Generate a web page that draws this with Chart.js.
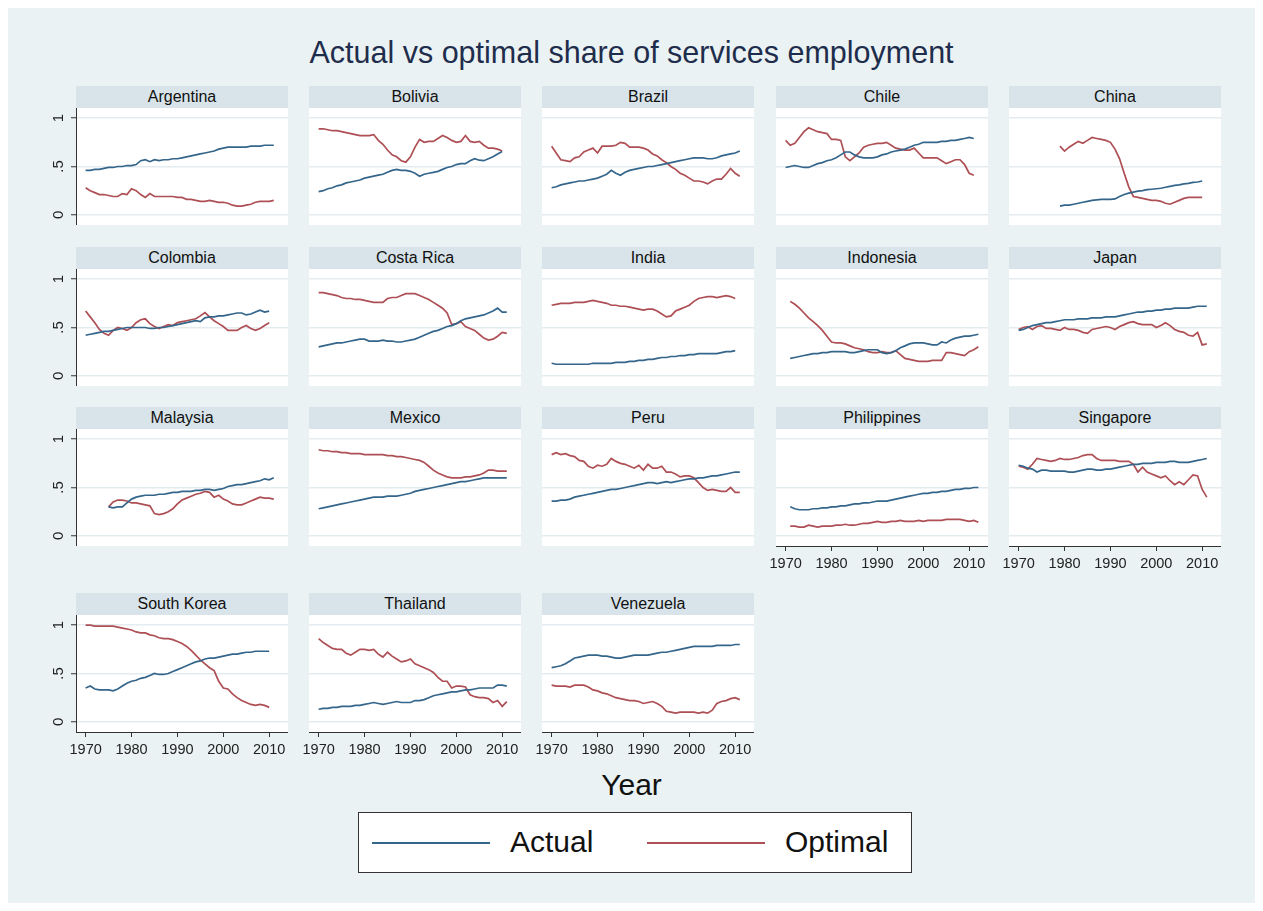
<!DOCTYPE html>
<html>
<head>
<meta charset="utf-8">
<title>Actual vs optimal share of services employment</title>
<script src="https://cdn.jsdelivr.net/npm/chart.js@4.4.1/dist/chart.umd.min.js"></script>
<style>
  body { margin: 0; background: #fff; font-family: Helvetica, "Liberation Sans", Arial, sans-serif; }
  #frame { position: absolute; left: 8px; top: 8px; width: 1247px; height: 895px; background: #eaf2f3; }
  .title { position: absolute; left: 0; width: 1263px; text-align: center; color: #1f2d4d; }
  .strip { position: absolute; height: 22px; line-height: 22px; background: #d8e4e9; text-align: center;
           font-size: 16px; color: #111; }
  canvas { position: absolute; }
  #legend { position: absolute; left: 358px; top: 812px; width: 552px; height: 59px; background: #fff;
            border: 1.5px solid #333; }
  .key { position: absolute; top: 29px; width: 118px; height: 2px; }
  .keytext { position: absolute; top: 12px; font-size: 30px; line-height: 34px; color: #111; }
</style>
</head>
<body>
<div id="frame"></div>
<div class="title" style="top:33px;font-size:30.5px;line-height:38px;">Actual vs optimal share of services employment</div>
<div class="title" style="top:767px;font-size:30px;line-height:36px;color:#111;">Year</div>
<div id="legend">
  <div class="key" style="left:13px;background:#34658a;"></div>
  <div class="keytext" style="left:151px;">Actual</div>
  <div class="key" style="left:288px;background:#ad4f54;"></div>
  <div class="keytext" style="left:426px;">Optimal</div>
</div>
<script>
const countries = ['Argentina', 'Bolivia', 'Brazil', 'Chile', 'China',
  'Colombia', 'Costa Rica', 'India', 'Indonesia', 'Japan',
  'Malaysia', 'Mexico', 'Peru', 'Philippines', 'Singapore',
  'South Korea', 'Thailand', 'Venezuela'];
const startYears = [1970, 1970, 1970, 1970, 1979,
  1970, 1970, 1970, 1971, 1970,
  1975, 1970, 1970, 1971, 1970,
  1970, 1970, 1970];

const xTickValues = [1970, 1980, 1990, 2000, 2010];
const yTickValues = [0, 0.5, 1];
const yTickLabels = ['0', '.5', '1'];

// shares by year, starting at startYears[i]
const argentinaActual = [.46,.46,.47,.47,.48,.49,.49,.50,.50,.51, .51,.52,.56,.57,.55,.57,.56,.57,.57,.58, .58,.59,.60,.61,.62,.63,.64,.65,.66,.68, .69,.70,.70,.70,.70,.70,.71,.71,.71,.72, .72,.72];
const argentinaOptimal = [.28,.25,.23,.21,.21,.20,.19,.19,.22,.21, .27,.25,.21,.18,.22,.19,.19,.19,.19,.19, .18,.18,.16,.16,.15,.14,.14,.15,.14,.13, .13,.12,.10,.09,.09,.10,.11,.13,.14,.14, .14,.15];
const boliviaActual = [.24,.25,.27,.28,.30,.31,.33,.34,.35,.36, .38,.39,.40,.41,.42,.44,.46,.47,.46,.46, .45,.43,.40,.42,.43,.44,.45,.47,.49,.50, .52,.53,.53,.56,.58,.565,.56,.58,.60,.63, .655];
const boliviaOptimal = [.89,.89,.88,.87,.87,.86,.85,.84,.83,.82, .82,.82,.83,.77,.73,.67,.62,.60,.56,.545, .60,.70,.78,.75,.76,.76,.79,.82,.80,.77, .75,.76,.82,.76,.75,.76,.72,.69,.69,.68, .66];
const brazilActual = [.28,.29,.31,.32,.33,.34,.35,.35,.36,.37, .38,.40,.42,.46,.43,.41,.44,.46,.47,.48, .49,.50,.50,.51,.52,.53,.54,.55,.56,.57, .58,.59,.59,.59,.58,.58,.59,.61,.62,.63, .64,.66];
const brazilOptimal = [.71,.64,.57,.56,.55,.59,.60,.65,.67,.69, .64,.71,.71,.71,.72,.75,.74,.70,.70,.70, .69,.67,.63,.61,.57,.54,.50,.47,.43,.41, .38,.35,.35,.34,.32,.35,.37,.37,.42,.48, .43,.40];
const chileActual = [.49,.50,.51,.50,.49,.49,.51,.53,.54,.56, .57,.59,.62,.65,.65,.62,.60,.59,.59,.59, .60,.62,.63,.65,.66,.67,.68,.70,.72,.73, .75,.75,.75,.75,.76,.76,.77,.77,.78,.79, .80,.79];
const chileOptimal = [.77,.72,.74,.80,.86,.90,.88,.86,.85,.84, .78,.78,.77,.60,.56,.60,.64,.70,.72,.73, .74,.74,.75,.72,.69,.68,.67,.67,.69,.64, .59,.59,.59,.59,.56,.53,.55,.57,.57,.52, .43,.41];
const chinaActual = [.09,.10,.10,.11,.12,.13,.14,.15,.155,.16, .16,.16,.165,.19,.21,.225,.235,.245,.25,.26, .265,.27,.275,.285,.295,.305,.31,.32,.325,.335, .34,.35];
const chinaOptimal = [.71,.66,.70,.73,.76,.74,.77,.80,.79,.78, .77,.75,.68,.58,.43,.29,.19,.18,.17,.16, .15,.15,.14,.12,.11,.13,.15,.17,.18,.18, .18,.18];
const colombiaActual = [.42,.43,.44,.45,.46,.46,.47,.48,.49,.50, .50,.50,.50,.50,.49,.49,.50,.50,.51,.52, .53,.54,.55,.56,.57,.56,.60,.61,.61,.62, .62,.63,.64,.65,.65,.63,.64,.66,.68,.66, .67];
const colombiaOptimal = [.67,.61,.55,.48,.44,.42,.47,.50,.49,.47, .50,.55,.58,.59,.54,.51,.49,.51,.53,.52, .55,.56,.57,.58,.59,.62,.655,.61,.57,.54, .51,.47,.47,.47,.50,.52,.49,.47,.49,.52, .55];
const costaRicaActual = [.30,.31,.32,.33,.34,.34,.35,.36,.37,.38, .38,.36,.36,.36,.37,.36,.36,.35,.35,.36, .37,.38,.40,.42,.44,.46,.47,.49,.51,.52, .54,.57,.59,.60,.61,.62,.63,.65,.67,.70, .66,.66];
const costaRicaOptimal = [.86,.86,.85,.84,.83,.81,.80,.80,.79,.79, .78,.77,.76,.76,.76,.80,.81,.81,.83,.85, .85,.85,.83,.81,.79,.76,.73,.70,.65,.53, .54,.56,.51,.49,.47,.43,.39,.37,.38,.41, .45,.44];
const indiaActual = [.13,.12,.12,.12,.12,.12,.12,.12,.12,.13, .13,.13,.13,.13,.14,.14,.14,.15,.15,.16, .16,.17,.17,.18,.19,.19,.20,.20,.21,.21, .22,.22,.23,.23,.23,.23,.23,.24,.25,.25, .26];
const indiaOptimal = [.73,.74,.75,.75,.75,.76,.76,.76,.77,.78, .77,.76,.75,.73,.73,.72,.72,.71,.70,.69, .68,.69,.69,.67,.64,.61,.62,.67,.69,.71, .73,.77,.80,.81,.82,.82,.81,.82,.83,.82, .80];
const indonesiaActual = [.18,.19,.20,.21,.22,.23,.23,.24,.24, .25,.25,.25,.25,.24,.24,.25,.26,.27,.27, .27,.24,.23,.24,.26,.29,.31,.33,.34,.34, .34,.33,.32,.32,.35,.34,.37,.39,.40,.41, .41,.42,.43];
const indonesiaOptimal = [.77,.74,.70,.65,.60,.56,.52,.47,.41, .35,.34,.34,.33,.31,.29,.28,.27,.25,.24, .24,.25,.24,.24,.26,.22,.18,.17,.16,.15, .15,.15,.16,.16,.16,.24,.24,.23,.22,.21, .25,.27,.30];
const japanActual = [.47,.48,.50,.52,.53,.54,.55,.55,.56,.57, .58,.58,.58,.59,.59,.59,.60,.60,.60,.61, .61,.61,.62,.63,.64,.65,.66,.66,.67,.67, .68,.68,.69,.69,.70,.70,.70,.70,.71,.72, .72,.72];
const japanOptimal = [.48,.50,.51,.48,.51,.52,.49,.49,.48,.47, .50,.48,.48,.47,.45,.44,.48,.49,.50,.51, .50,.48,.51,.53,.55,.56,.54,.53,.53,.53, .50,.52,.55,.52,.48,.46,.45,.42,.41,.45, .32,.33];
const malaysiaActual = [.30,.29,.30,.30,.34, .38,.40,.41,.42,.42,.42,.43,.43,.44,.45, .45,.46,.46,.46,.47,.47,.48,.48,.47,.48, .49,.51,.52,.53,.53,.54,.55,.56,.57,.59, .58,.60];
const malaysiaOptimal = [.30,.35,.37,.37,.36, .34,.34,.33,.32,.31,.23,.22,.23,.25,.28, .33,.37,.39,.41,.43,.44,.46,.45,.40,.42, .38,.36,.33,.32,.32,.34,.36,.38,.40,.39, .39,.38];
const mexicoActual = [.28,.29,.30,.31,.32,.33,.34,.35,.36,.37, .38,.39,.40,.40,.40,.41,.41,.41,.42,.43, .44,.46,.47,.48,.49,.50,.51,.52,.53,.54, .55,.56,.56,.57,.58,.59,.60,.60,.60,.60, .60,.60];
const mexicoOptimal = [.89,.88,.88,.87,.87,.86,.86,.85,.85,.85, .84,.84,.84,.84,.84,.83,.83,.82,.82,.81, .80,.79,.78,.76,.72,.68,.65,.63,.61,.60, .60,.60,.61,.61,.62,.63,.65,.68,.68,.67, .67,.67];
const peruActual = [.36,.36,.37,.37,.38,.40,.41,.42,.43,.44, .45,.46,.47,.48,.48,.49,.50,.51,.52,.53, .54,.55,.55,.54,.55,.56,.55,.56,.57,.58, .59,.59,.60,.60,.61,.62,.62,.63,.64,.65, .66,.66];
const peruOptimal = [.84,.86,.84,.85,.83,.82,.78,.77,.72,.70, .73,.72,.74,.80,.77,.75,.74,.72,.70,.73, .68,.74,.70,.70,.72,.66,.66,.64,.61,.62, .62,.60,.55,.50,.47,.48,.47,.46,.46,.50, .45,.45];
const philippinesActual = [.30,.28,.27,.27,.27,.28,.28,.29,.29, .30,.30,.31,.31,.32,.33,.33,.34,.34,.35, .36,.36,.36,.37,.38,.39,.40,.41,.42,.43, .44,.44,.45,.45,.46,.46,.47,.48,.48,.49, .49,.50,.50];
const philippinesOptimal = [.10,.10,.09,.09,.11,.10,.09,.10,.10, .10,.11,.11,.12,.11,.11,.12,.13,.13,.14, .15,.14,.14,.15,.15,.16,.15,.15,.15,.16, .15,.16,.16,.16,.16,.17,.17,.17,.17,.16, .15,.16,.14];
const singaporeActual = [.73,.72,.70,.69,.66,.68,.68,.67,.67,.67, .67,.66,.66,.67,.68,.69,.69,.68,.68,.69, .69,.70,.71,.72,.73,.74,.74,.75,.75,.75, .76,.76,.76,.77,.77,.76,.76,.76,.77,.78, .79,.80];
const singaporeOptimal = [.72,.71,.69,.74,.80,.79,.78,.77,.78,.80, .79,.79,.80,.81,.83,.84,.84,.80,.78,.78, .78,.78,.77,.77,.77,.74,.66,.71,.66,.64, .62,.60,.62,.57,.53,.56,.53,.58,.63,.62, .48,.40];
const southKoreaActual = [.35,.37,.34,.33,.33,.33,.32,.34,.37,.40, .42,.43,.45,.46,.48,.50,.49,.49,.50,.52, .54,.56,.58,.60,.62,.63,.65,.66,.66,.67, .68,.69,.70,.70,.71,.72,.72,.73,.73,.73, .73];
const southKoreaOptimal = [1.00,1.00,.99,.99,.99,.99,.99,.98,.97,.96, .95,.93,.92,.92,.90,.89,.87,.86,.86,.85, .83,.81,.78,.74,.69,.64,.60,.56,.53,.42, .35,.34,.29,.25,.22,.20,.18,.17,.18,.17, .15];
const thailandActual = [.13,.14,.14,.15,.15,.16,.16,.16,.17,.17, .18,.19,.20,.19,.18,.19,.20,.21,.20,.20, .20,.22,.22,.23,.25,.27,.28,.29,.30,.31, .31,.32,.33,.33,.34,.35,.35,.35,.35,.38, .38,.37];
const thailandOptimal = [.86,.82,.79,.76,.75,.75,.71,.69,.72,.75, .75,.74,.75,.70,.67,.72,.68,.65,.62,.63, .65,.60,.58,.56,.54,.51,.46,.42,.42,.35, .37,.37,.36,.28,.26,.25,.25,.24,.20,.22, .16,.21];
const venezuelaActual = [.56,.57,.58,.60,.63,.66,.67,.68,.69,.69, .69,.68,.68,.67,.66,.66,.67,.68,.69,.69, .69,.69,.70,.71,.72,.72,.73,.74,.75,.76, .77,.78,.78,.78,.78,.78,.79,.79,.79,.79, .80,.80];
const venezuelaOptimal = [.38,.37,.37,.37,.36,.38,.38,.38,.36,.33, .32,.30,.29,.27,.25,.24,.23,.22,.22,.21, .19,.20,.21,.19,.16,.11,.10,.09,.10,.10, .10,.10,.09,.10,.09,.12,.19,.21,.22,.24, .25,.23];

const actualSeries = [argentinaActual, boliviaActual, brazilActual, chileActual, chinaActual,
  colombiaActual, costaRicaActual, indiaActual, indonesiaActual, japanActual,
  malaysiaActual, mexicoActual, peruActual, philippinesActual, singaporeActual,
  southKoreaActual, thailandActual, venezuelaActual];
const optimalSeries = [argentinaOptimal, boliviaOptimal, brazilOptimal, chileOptimal, chinaOptimal,
  colombiaOptimal, costaRicaOptimal, indiaOptimal, indonesiaOptimal, japanOptimal,
  malaysiaOptimal, mexicoOptimal, peruOptimal, philippinesOptimal, singaporeOptimal,
  southKoreaOptimal, thailandOptimal, venezuelaOptimal];

// panel grid
const colLeft = [76, 309, 542, 776, 1009];
const stripTop = [86, 247, 407, 593];
const panelW = 212, stripH = 22, plotH = 117;
const yAxisW = 40, xAxisH = 30, xLabelRoom = 20;
const fontFamily = 'Helvetica, "Liberation Sans", Arial, sans-serif';
const actualColor = '#34658a', optimalColor = '#ad4f54';

// white plot region
const plotBackground = {
  id: 'plotBackground',
  beforeDraw(chart) {
    const { ctx, chartArea: a } = chart;
    ctx.save();
    ctx.fillStyle = '#fff';
    ctx.fillRect(a.left, a.top, a.right - a.left, a.bottom - a.top);
    ctx.restore();
  }
};

const toPoints = (values, start) => values.map((v, i) => ({ x: start + i, y: v }));

countries.forEach((name, i) => {
  const col = i % 5, row = Math.floor(i / 5);
  const hasY = col === 0;
  const hasX = i >= 13;
  // room left of the plot: y axis labels, or half of the first year label
  const leftRoom = hasY ? yAxisW : (hasX ? xLabelRoom : 0);
  const left = colLeft[col], top = stripTop[row];

  const strip = document.createElement('div');
  strip.className = 'strip';
  strip.style.left = left + 'px';
  strip.style.top = top + 'px';
  strip.style.width = panelW + 'px';
  strip.textContent = name;
  document.body.appendChild(strip);

  const canvas = document.createElement('canvas');
  canvas.width = panelW + leftRoom;
  canvas.height = plotH + (hasX ? xAxisH : 0);
  canvas.style.left = (left - leftRoom) + 'px';
  canvas.style.top = (top + stripH) + 'px';
  document.body.appendChild(canvas);

  new Chart(canvas.getContext('2d'), {
    type: 'line',
    data: {
      datasets: [
        { label: 'Actual', data: toPoints(actualSeries[i], startYears[i]), borderColor: actualColor },
        { label: 'Optimal', data: toPoints(optimalSeries[i], startYears[i]), borderColor: optimalColor }
      ]
    },
    options: {
      responsive: false,
      animation: false,
      devicePixelRatio: 1,
      layout: { padding: 0 },
      elements: { point: { radius: 0 }, line: { borderWidth: 1.7, tension: 0 } },
      plugins: { legend: { display: false }, tooltip: { enabled: false } },
      scales: {
        x: {
          type: 'linear', min: 1967.9, max: 2014.1, display: hasX,
          afterBuildTicks: s => { s.ticks = xTickValues.map(v => ({ value: v })); },
          afterFit: s => {
            s.height = hasX ? xAxisH : 0;
            s.paddingLeft = 0; s.paddingRight = 0;
          },
          grid: { drawOnChartArea: false, tickLength: 5, tickColor: '#333', tickWidth: 1 },
          border: { color: '#333', width: 1 },
          ticks: { autoSkip: false, maxRotation: 0, padding: 4, color: '#222',
                   font: { size: 14.5, family: fontFamily }, callback: v => String(v) }
        },
        y: {
          min: -0.105, max: 1.105,
          afterBuildTicks: s => { s.ticks = yTickValues.map(v => ({ value: v })); },
          afterFit: s => {
            s.width = leftRoom;
            s.paddingTop = 0; s.paddingBottom = 0;
          },
          grid: { color: '#e4ecef', lineWidth: 1.5, drawTicks: hasY, tickLength: 5, tickColor: '#333', tickWidth: 1 },
          border: { display: hasY, color: '#333', width: 1 },
          ticks: { display: hasY, minRotation: 90, maxRotation: 90, crossAlign: 'center', padding: 6,
                   color: '#222', font: { size: 15, family: fontFamily },
                   callback: v => yTickLabels[yTickValues.indexOf(v)] }
        }
      }
    },
    plugins: [plotBackground]
  });
});
</script>
</body>
</html>
